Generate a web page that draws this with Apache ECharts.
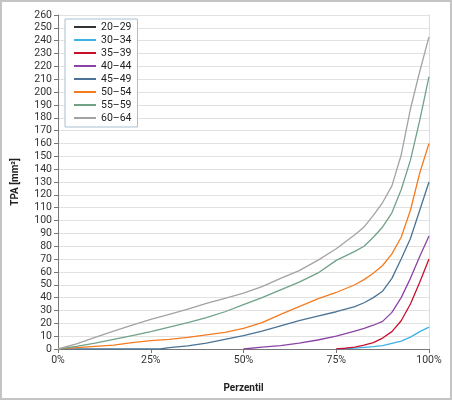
<!DOCTYPE html>
<html><head><meta charset="utf-8">
<script src="https://cdn.jsdelivr.net/npm/echarts@6/dist/echarts.min.js"></script>
<style>
html,body{margin:0;padding:0;background:#fff;}
#c{width:452px;height:400px;box-sizing:border-box;border:2px solid #c4c4c4;}
</style></head><body>
<div id="c"></div>
<script>
const seriesNames = ['20–29','30–34','35–39','40–44','45–49','50–54','55–59','60–64'];
const colors = ['#333333','#3db2e6','#c8102e','#8b44a6','#4a7396','#f47b20','#6fa287','#a3a3a3'];
const xTicks = [0,25,50,75,100];

const p20_29 = [[100,0]];
const p30_34 = [[75,0],[80,0.7],[85,1.8],[87.5,2.6],[90,4.4],[92.5,6.2],[95,9.2],[97.5,13.5],[100,17]];
const p35_39 = [[75,0],[77.5,0.6],[80,1.5],[82.5,3],[85,5],[87.5,8.5],[90,13.5],[92.5,22],[95,35],[97.5,52],[100,70]];
const p40_44 = [[50,0],[55,1.5],[60,2.7],[65,4.5],[70,7],[75,10],[80,14],[82.5,16],[85,18.5],[87.5,21.5],[90,28.5],[92.5,40],[95,55],[97.5,72],[100,88]];
const p45_49 = [[0,0],[10,0],[20,0],[27.5,0],[30,1],[35,2.5],[40,4.5],[45,7.5],[50,10.5],[55,14],[60,18],[65,22],[70,25.5],[75,29],[80,33],[82.5,36],[85,40],[87.5,45],[90,55],[92.5,70],[95,86],[97.5,108],[100,130]];
const p50_54 = [[0,0],[5,1],[10,2],[15,3],[20,5],[25,6.5],[30,7.5],[35,9],[40,11],[45,13],[50,16],[55,20.5],[60,27],[65,33],[70,39],[75,44],[80,50],[82.5,54],[85,59],[87.5,65],[90,74],[92.5,87],[95,108],[97.5,137],[100,160]];
const p55_59 = [[0,0],[5,2],[10,4.5],[15,7.5],[20,10.5],[25,13.5],[30,17],[35,20.5],[40,24.5],[45,29],[50,34.5],[55,40],[60,46],[65,52],[70,59],[75,69],[80,76],[82.5,80],[85,87],[87.5,95],[90,106],[92.5,124],[95,147],[97.5,178],[100,212]];
const p60_64 = [[0,0],[5,4],[10,9],[15,14],[20,18.5],[25,23],[30,27],[35,31],[40,35.5],[45,39.5],[50,43.5],[55,48.5],[60,55],[65,61],[70,69],[75,78],[80,89],[82.5,95],[85,104],[87.5,114],[90,127],[92.5,151],[95,187],[97.5,216],[100,243]];
const allData = [p20_29,p30_34,p35_39,p40_44,p45_49,p50_54,p55_59,p60_64];

const font = 'Roboto, "DejaVu Sans", sans-serif';
const chart = echarts.init(document.getElementById('c'), null, {renderer:'canvas'});
chart.setOption({
  animation:false,
  color: colors,
  textStyle:{fontFamily:font},
  grid:{left:56,right:21,top:13,bottom:49,containLabel:false},
  legend:{
    orient:'vertical', left:63, top:17,
    data: seriesNames,
    icon:'rect', itemWidth:22, itemHeight:2, itemGap:1,
    padding:[2,6,3,9],
    borderColor:'#a9bfd0', borderWidth:1, backgroundColor:'#fff',
    textStyle:{fontSize:10.5, color:'#222', lineHeight:12, fontFamily:font}
  },
  xAxis:{
    type:'value', min:0, max:100, interval:25,
    name:'Perzentil', nameLocation:'middle', nameGap:34,
    nameTextStyle:{fontSize:10, fontWeight:'bold', color:'#222', fontFamily:font},
    axisLine:{lineStyle:{color:'#777'}},
    axisTick:{show:true, length:4, lineStyle:{color:'#777'}},
    axisLabel:{formatter: v => xTicks.includes(v) ? v+'%' : '', fontSize:10.5, color:'#333', margin:6},
    splitLine:{show:false}
  },
  yAxis:[{
    type:'value', min:0, max:260, interval:10,
    name:'TPA [mm²]', nameLocation:'middle', nameGap:38, nameRotate:90,
    nameTextStyle:{fontSize:10, fontWeight:'bold', color:'#222', fontFamily:font},
    axisLine:{show:true, lineStyle:{color:'#777'}},
    axisTick:{show:true, length:4, inside:false, lineStyle:{color:'#777'}},
    axisLabel:{fontSize:10.5, color:'#333', margin:6},
    splitLine:{show:true, lineStyle:{color:'#e2e2e2', width:1}}
  },{
    type:'value', min:0, max:260, interval:10, position:'right',
    axisLine:{show:true, lineStyle:{color:'#dddddd'}},
    axisTick:{show:false}, axisLabel:{show:false}, splitLine:{show:false}
  }],
  series: seriesNames.map((n,i)=>({
    name:n, type:'line', data: allData[i], showSymbol:false, symbol:'none',
    smooth:false,
    lineStyle:{width:1.3, color:colors[i]}, itemStyle:{color:colors[i]}
  }))
});
</script></body></html>
